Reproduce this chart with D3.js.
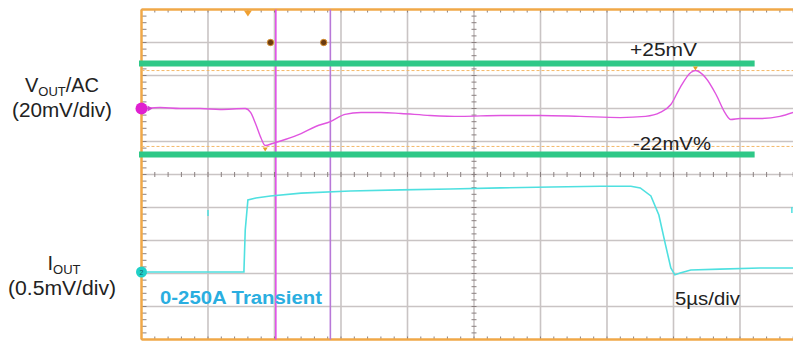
<!DOCTYPE html>
<html><head><meta charset="utf-8">
<script src="https://cdn.jsdelivr.net/npm/d3@7"></script>
<style>body{margin:0;background:#fff}svg{display:block}</style>
</head><body><svg id="c" width="793" height="341"></svg>
<script>
// ---- data ----
const timeTicks = [5,10,15,20,25,30,35,40,45];            // µs, vertical grid (5µs/div)
const divTicks = [1,2,3,4,5,6,7,8,9];                      // horizontal divisions
const voutT = [0.4,1.4,2.9,4.4,5.9,7.8,8.2,8.6,9.0,9.3,9.85,10.8,12.0,13.1,14.2,15.3,16.5,18.0,19.5,21.7,24.0,27.0,30.0,33.0,36.0,37.9,39.0,39.8,40.5,41.3,41.65,42.4,43.2,43.9,44.3,45.0,46.5,48.0,49.0];
const voutMV = [0,0.6,0,0,-0.6,0,-2.4,-9.7,-18.2,-22.4,-21.2,-18.8,-15.2,-10.9,-7.9,-3.6,-2.4,-2.4,-3.0,-4.2,-4.8,-4.2,-4.2,-4.8,-5.5,-4.8,-2.4,2.4,12.7,21.8,23,18.8,8.5,-3.0,-6.7,-6.1,-6.1,-4.8,-2.4];
const ioutT = [0.4,4.4,7.7,7.8,8.0,8.6,9.7,12.0,15.7,19.5,23.2,27.0,30.8,34.5,36.8,37.5,38.3,38.9,39.4,39.8,40.1,40.5,41.3,43.5,46.5,49.0];
const ioutA = [0,0,0,146,250,257,264,274,281,285,288,292,295,298,298,292,264,198,94,14,-10,-3.5,7,10,14,14];
const strayT = [5.0, 48.9];
const strayA = [205, 215];
const limitsMV = [27.3, -27.9];      // green limit bars
const cursorMV = [23, -23];          // orange dashed cursors
const cursorT = [10.1, 14.2];        // vertical cursors
const dotT = [9.7, 13.7];
const labelPlus = "+25mV", labelMinus = "-22mV%", labelTime = "5µs/div", labelTrans = "0-250A Transient";

// ---- scales ----
const svg = d3.select("#c");
const x = d3.scaleLinear().domain([0,50]).range([141.5,806.5]);
const yd = d3.scaleLinear().domain([0,10]).range([9.5,339.5]);     // divisions
const yV = d3.scaleLinear().domain([60,-140]).range([9.5,339.5]);  // mV, 20mV/div, 0 at div 3
const yI = d3.scaleLinear().domain([0,250]).range([272,200]);      // A

const g = svg.append("g");
// grid
g.selectAll(".vg").data(timeTicks).join("line")
  .attr("x1",d=>x(d)).attr("x2",d=>x(d)).attr("y1",yd(0)).attr("y2",yd(10))
  .attr("stroke","#c9c4c4").attr("stroke-width",1.6);
g.selectAll(".hg").data(divTicks).join("line")
  .attr("x1",x(0)).attr("x2",793).attr("y1",d=>yd(d)).attr("y2",d=>yd(d))
  .attr("stroke","#c9c4c4").attr("stroke-width",1.6);

// minor ticks
const minorX = d3.range(0,50.01,1);
const minorY = d3.range(0,10.01,0.2);
const tk = g.append("g").attr("stroke","#8a8080").attr("stroke-width",1);
[[0,3],[5,2.5],[10,-3]].forEach(([dv,len])=>{
  tk.selectAll(null).data(minorX).join("line")
    .attr("x1",d=>x(d)).attr("x2",d=>x(d))
    .attr("y1",yd(dv)-(dv===5?len:0)).attr("y2",yd(dv)+len);
});
tk.selectAll(null).data(minorY).join("line")
  .attr("x1",x(0)).attr("x2",x(0)+5).attr("y1",d=>yd(d)).attr("y2",d=>yd(d));
tk.selectAll(null).data(minorY).join("line")
  .attr("x1",x(25)-2.5).attr("x2",x(25)+2.5).attr("y1",d=>yd(d)).attr("y2",d=>yd(d));

// orange frame
g.append("line").attr("x1",x(0)).attr("x2",793).attr("y1",yd(0)).attr("y2",yd(0)).attr("stroke","#f0a848").attr("stroke-width",2.5);
g.append("line").attr("x1",x(0)).attr("x2",793).attr("y1",yd(10)).attr("y2",yd(10)).attr("stroke","#f0a848").attr("stroke-width",2.5);
g.append("line").attr("x1",x(0)).attr("x2",x(0)).attr("y1",yd(0)).attr("y2",yd(10)).attr("stroke","#f0a848").attr("stroke-width",2.5);

// orange dashed cursors
g.selectAll(".oc").data(cursorMV).join("line")
  .attr("x1",x(0)).attr("x2",793).attr("y1",d=>yV(d)).attr("y2",d=>yV(d))
  .attr("stroke","#f4b868").attr("stroke-width",1).attr("stroke-dasharray","3,2");

// vertical cursors
g.selectAll(".vc").data(cursorT).join("line")
  .attr("x1",d=>x(d)).attr("x2",d=>x(d)).attr("y1",yd(0)).attr("y2",yd(10))
  .attr("stroke",(d,i)=>i===0?"#e050e8":"#b878d8").attr("stroke-width",1.6);

// dots at top
g.selectAll(".dt").data(dotT).join("circle")
  .attr("cx",d=>x(d)).attr("cy",yd(1)).attr("r",3.2).attr("fill","#6b3a10").attr("stroke","#d89030").attr("stroke-width",1);

// trigger triangle
g.append("path").attr("d",`M${x(8)-4},${yd(0)+1}L${x(8)+4},${yd(0)+1}L${x(8)},${yd(0)+7}Z`).attr("fill","#f0a030");

// green limit bars
g.selectAll(".gl").data(limitsMV).join("line")
  .attr("x1",139).attr("x2",x(46.1)).attr("y1",d=>yV(d)).attr("y2",d=>yV(d))
  .attr("stroke","#2ec887").attr("stroke-width",6);

// waveforms
const line = d3.line().curve(d3.curveMonotoneX);
g.append("path").attr("d",line(voutT.map((t,i)=>[x(t),yV(voutMV[i])])))
  .attr("fill","none").attr("stroke","#e055e0").attr("stroke-width",1.4);
g.append("path").attr("d",d3.line().curve(d3.curveLinear)(ioutT.map((t,i)=>[x(t),yI(ioutA[i])])))
  .attr("fill","none").attr("stroke","#4fe0e0").attr("stroke-width",1.6);
g.selectAll(".st").data(strayT).join("line")
  .attr("x1",d=>x(d)).attr("x2",d=>x(d)).attr("y1",(d,i)=>yI(strayA[i])-3).attr("y2",(d,i)=>yI(strayA[i])+3)
  .attr("stroke","#4fe0e0").attr("stroke-width",1.5);

// small peak markers
[[41.65,23],[9.3,-22.4]].forEach(([t,v])=>{
  const px=x(t), py=yV(v) + (v>0?-2:4);
  g.append("path").attr("d",`M${px-2.5},${py-2}L${px+2.5},${py-2}L${px},${py+2}Z`).attr("fill","#e0a020");
});

// channel markers
g.append("circle").attr("cx",x(0)).attr("cy",yV(0)).attr("r",6).attr("fill","#e020d0");
g.append("path").attr("d",`M${x(0)+6},${yV(0)-3}L${x(0)+11},${yV(0)}L${x(0)+6},${yV(0)+3}Z`).attr("fill","#d040d0");
g.append("circle").attr("cx",x(0)).attr("cy",yI(0)).attr("r",5.5).attr("fill","#20d0c8");
g.append("text").attr("x",x(0)).attr("y",yI(0)+2.5).attr("text-anchor","middle").attr("font-size",7).attr("fill","#106060").attr("font-family","Liberation Sans, Arial").text("2");

// texts
const ff = "Liberation Sans, Arial, sans-serif";
const t1 = svg.append("text").attr("x",62).attr("y",92).attr("text-anchor","middle").attr("font-family",ff).attr("font-size",20).attr("fill","#222");
t1.append("tspan").text("V");
t1.append("tspan").attr("font-size",13).attr("dy",4).text("OUT");
t1.append("tspan").attr("dy",-4).text("/AC");
svg.append("text").attr("x",62).attr("y",117).attr("text-anchor","middle").attr("font-family",ff).attr("font-size",20).attr("fill","#222")
  .attr("textLength",100).attr("lengthAdjust","spacingAndGlyphs").text("(20mV/div)");
const t2 = svg.append("text").attr("x",64).attr("y",270).attr("text-anchor","middle").attr("font-family",ff).attr("font-size",20).attr("fill","#222");
t2.append("tspan").text("I");
t2.append("tspan").attr("font-size",13).attr("dy",4).text("OUT");
svg.append("text").attr("x",62).attr("y",295).attr("text-anchor","middle").attr("font-family",ff).attr("font-size",20).attr("fill","#222")
  .attr("textLength",108).attr("lengthAdjust","spacingAndGlyphs").text("(0.5mV/div)");

const rt = (txt,xx,yy,len)=>svg.append("text").attr("x",xx).attr("y",yy).attr("font-family",ff).attr("font-size",18).attr("fill","#222")
  .attr("textLength",len).attr("lengthAdjust","spacingAndGlyphs").text(txt);
rt(labelPlus,630,56,67);
rt(labelMinus,633,150,78);
rt(labelTime,675,305,65);
svg.append("text").attr("x",160).attr("y",304).attr("font-family",ff).attr("font-size",18).attr("font-weight","bold").attr("fill","#2aaee0")
  .attr("textLength",162).attr("lengthAdjust","spacingAndGlyphs").text(labelTrans);
</script></body></html>
